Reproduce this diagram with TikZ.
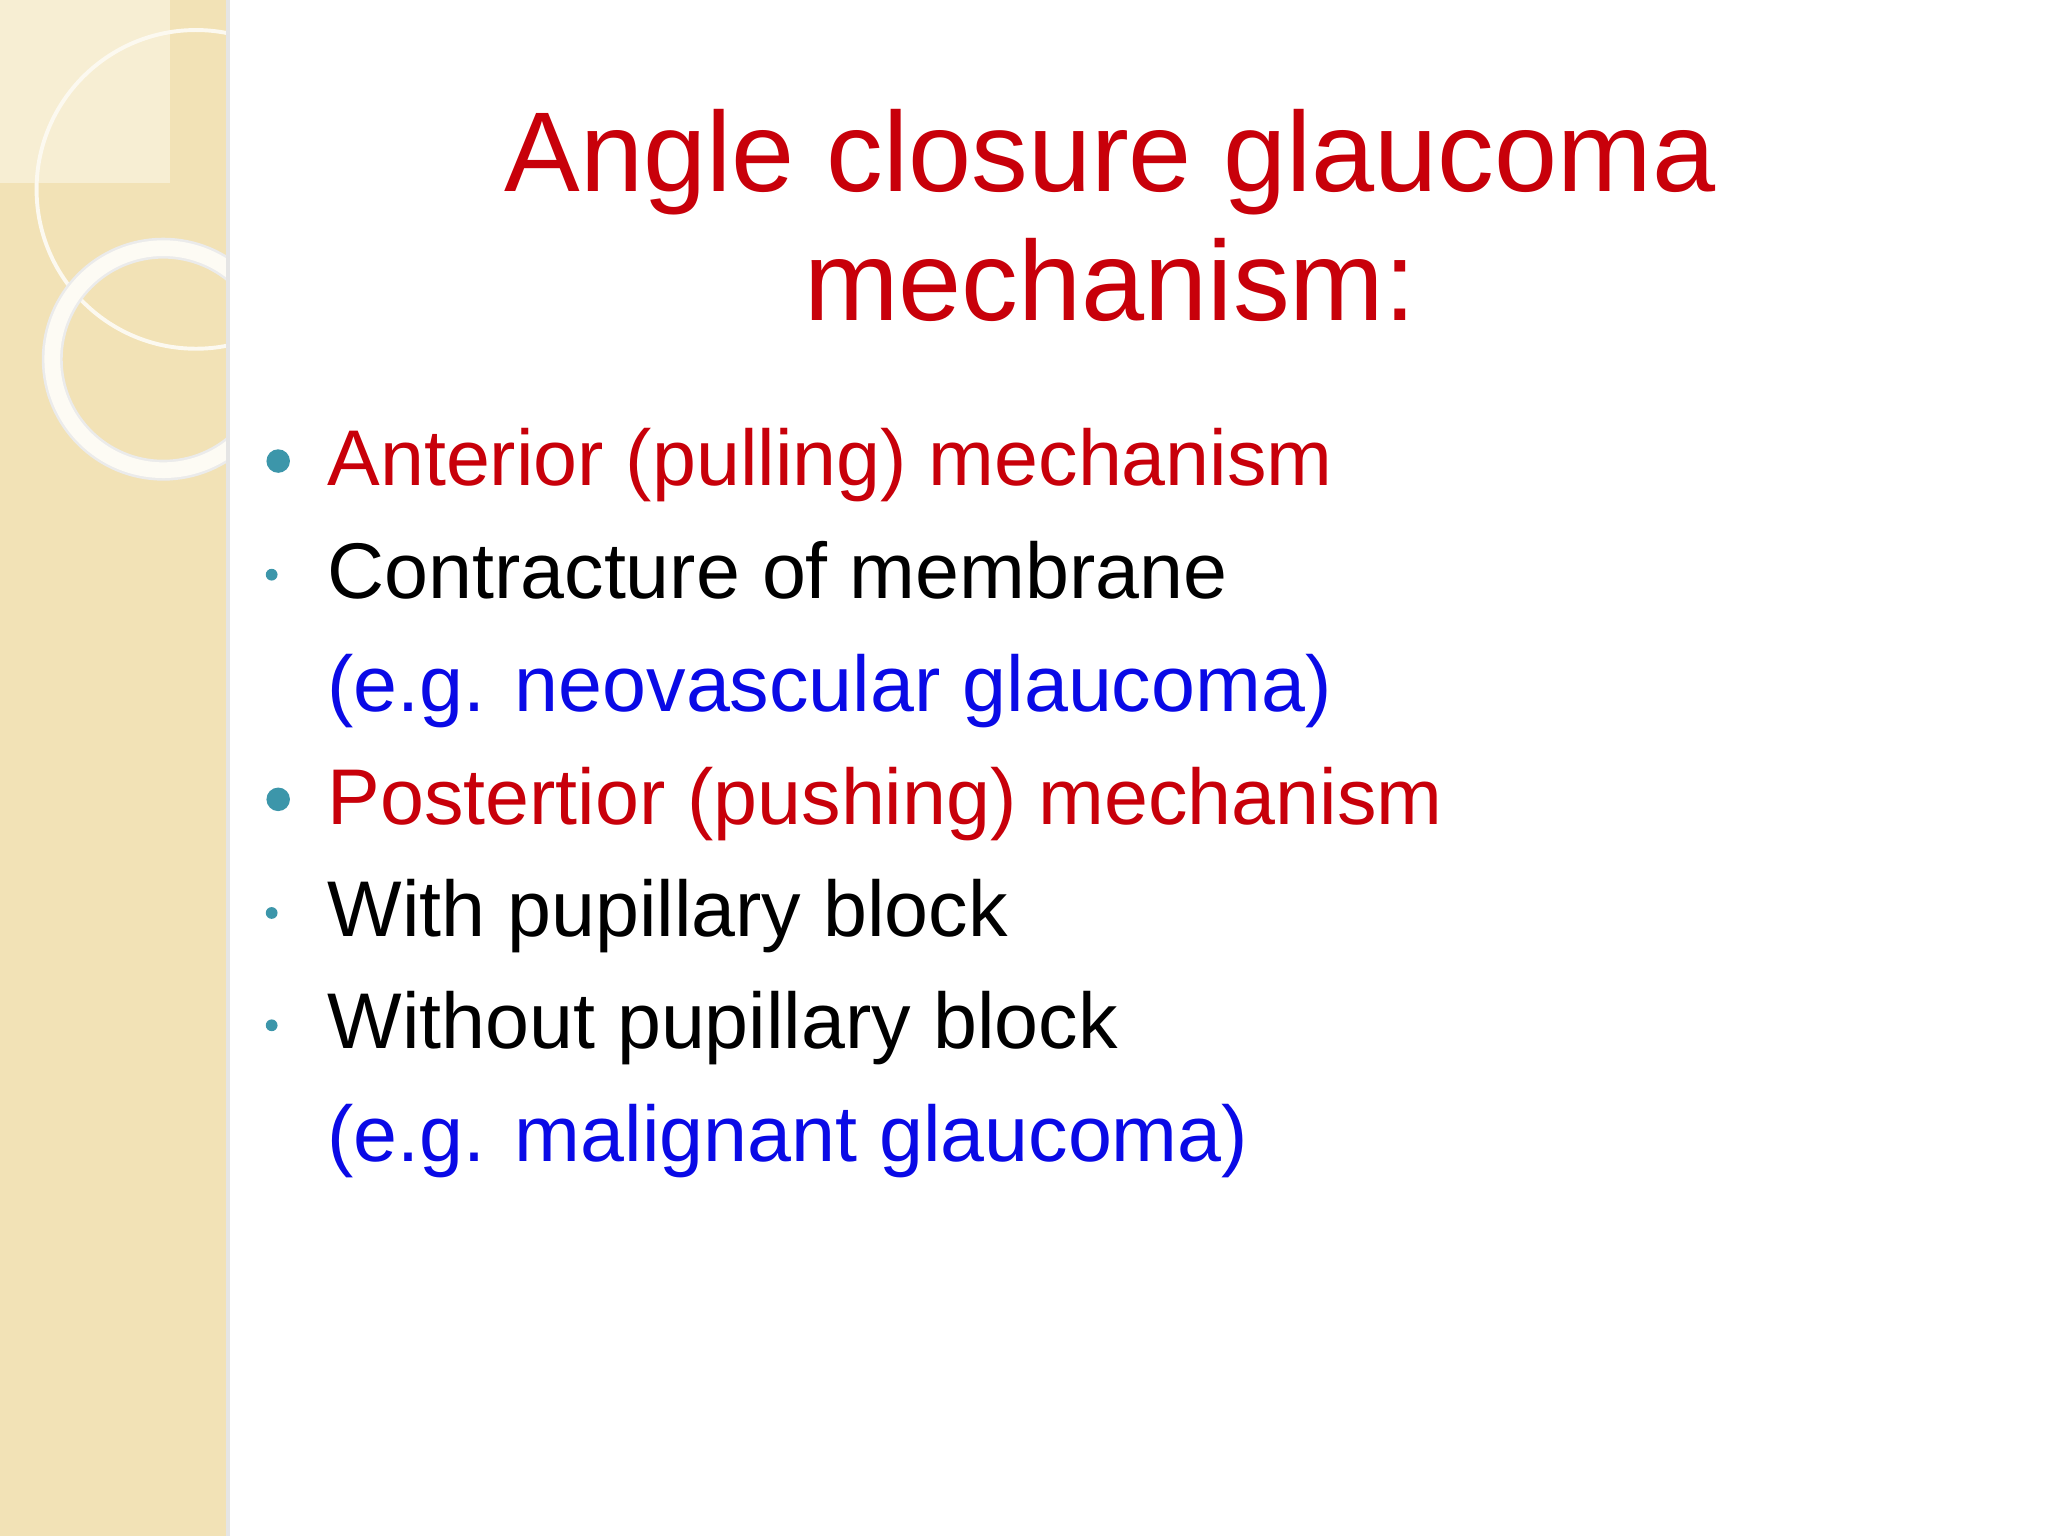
\documentclass[tikz,border=0pt]{standalone}
\usepackage{fontspec}
\setmainfont{Liberation Sans}
\definecolor{tred}{RGB}{200,0,10}
\definecolor{tblue}{RGB}{10,10,230}
\definecolor{band}{RGB}{242,226,182}
\definecolor{bul}{RGB}{60,150,170}
\begin{document}
\begin{tikzpicture}[x=0.01cm,y=-0.01cm,
  txt/.style={anchor=base west,inner sep=0,font=\fontsize{17.2}{20}\selectfont},
  bigb/.style={circle,fill=bul,inner sep=0,minimum size=0.18cm},
  smallb/.style={circle,fill=bul,inner sep=0,minimum size=0.09cm}]
\useasboundingbox (0,0) rectangle (1568,1176);
\fill[white] (0,0) rectangle (1568,1176);
\fill[band] (0,0) rectangle (173,1176);
\fill[band!60!white] (0,0) rectangle (130,140);
\fill[black!10] (173,0) rectangle (176,1176);
\begin{scope}
\clip (0,0) rectangle (173,1176);
\draw[white!80!band,line width=0.03cm] (150,145) circle (122);
\draw[black!8,line width=0.16cm] (125,275) circle (85);
\draw[white!85!band,line width=0.12cm] (125,275) circle (85);
\end{scope}
\node[anchor=center,font=\fontsize{24.7}{30}\selectfont,color=tred,align=center] (title) at (850,165) {Angle closure glaucoma\\[-2pt]mechanism:};
\node[txt,color=tred] (l1) at (250,372) {Anterior (pulling) mechanism};
\node[txt] (l2) at (250,458) {Contracture of membrane};
\node[txt,color=tblue] (l3) at (250,545) {(e.g. neovascular glaucoma)};
\node[txt,color=tred] (l4) at (250,631) {Postertior (pushing) mechanism};
\node[txt] (l5) at (250,717) {With pupillary block};
\node[txt] (l6) at (250,803) {Without pupillary block};
\node[txt,color=tblue] (l7) at (250,889) {(e.g. malignant glaucoma)};
\node[bigb] (b1) at (213,353) {};
\node[smallb] (b2) at (208,440) {};
\node[bigb] (b4) at (213,612) {};
\node[smallb] (b5) at (208,699) {};
\node[smallb] (b6) at (208,785) {};
\end{tikzpicture}
\end{document}
